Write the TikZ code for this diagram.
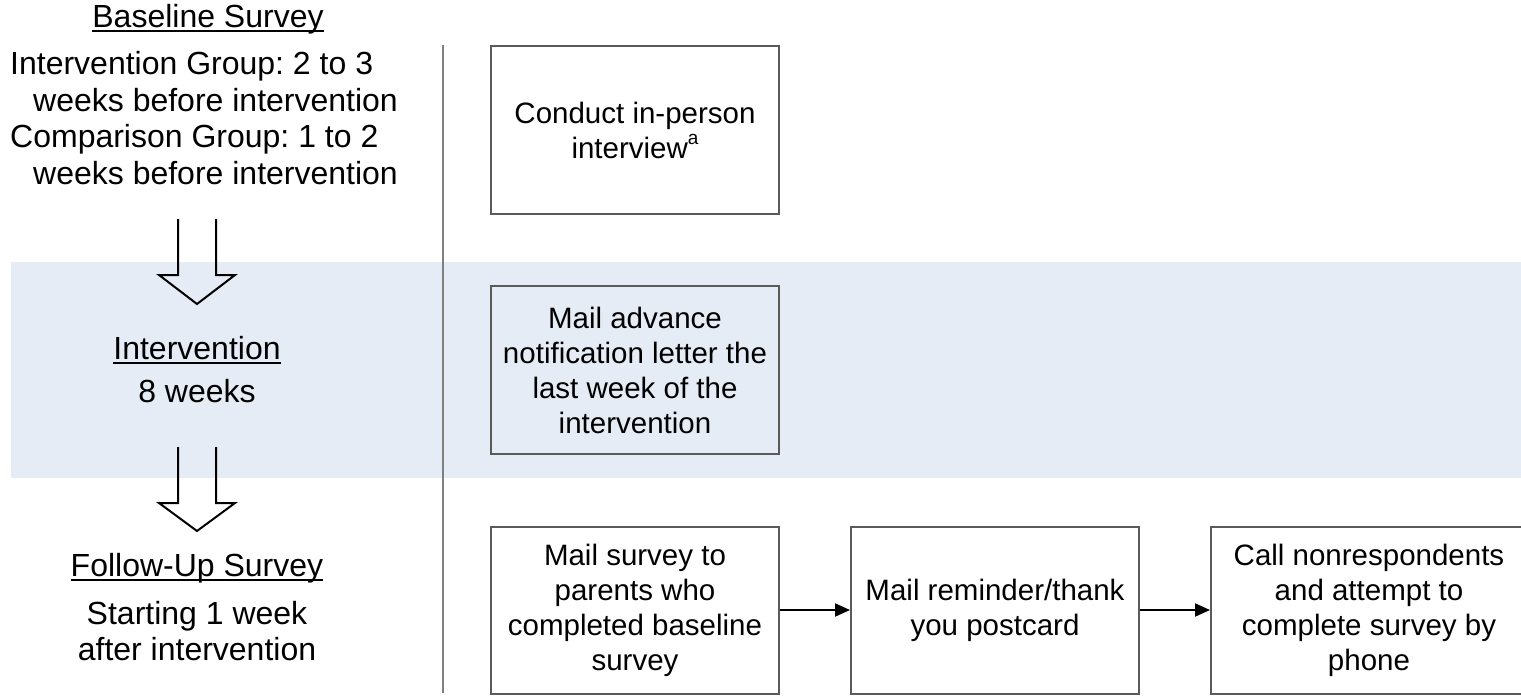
\documentclass[tikz,border=0pt]{standalone}
\usepackage{fontspec}
\setmainfont{Liberation Sans}
\usetikzlibrary{arrows.meta}
\definecolor{bandblue}{RGB}{230,236,246}
\definecolor{boxline}{RGB}{90,90,90}
\definecolor{divline}{RGB}{128,128,128}
\newcommand\ulin[1]{\setbox0\hbox{#1}\rlap{\rule[-0.16em]{\wd0}{0.065em}}\box0}
\newcommand\supa{\raisebox{0.45em}{\fontsize{19}{19}\selectfont a}}
\frenchspacing
\begin{document}
\begin{tikzpicture}[x=1pt,y=-1pt,
  stepbox/.style={draw=boxline, line width=2pt, minimum width=288pt, minimum height=167pt,
    inner sep=0pt, align=center, font=\fontsize{29.5}{35}\selectfont},
  lefttext/.style={inner sep=0pt, font=\fontsize{32}{36.5}\selectfont},
  blockarrow/.style={draw=black, line width=2pt, line join=miter},
  flow/.style={-{Triangle[length=15pt,width=13pt]}, line width=2pt, draw=black}]
\useasboundingbox (0,0) rectangle (1521,698);
% band
\fill[bandblue] (11,262) rectangle (1521,478);
% divider
\coordinate (dtop) at (443,45);
\coordinate (dbot) at (443,693);
\draw[divline, line width=2pt] (dtop) -- (dbot);
% left column
\node[lefttext] (bs) at (208,19) {\ulin{Baseline Survey}};
\node[lefttext, align=left, anchor=west] (bsd) at (10,118)
  {Intervention Group: 2 to 3\\\hspace*{23pt}weeks before intervention\\Comparison Group: 1 to 2\\\hspace*{23pt}weeks before intervention};
\node[lefttext] (iv) at (197,350) {\ulin{Intervention}};
\node[lefttext] (iw) at (197,391) {8 weeks};
\node[lefttext] (fu) at (197,568) {\ulin{Follow-Up Survey}};
\node[lefttext, align=center] (fd) at (197,631) {Starting 1 week\\after intervention};
% block arrows
\draw[blockarrow] (178,219) -- (178,275) -- (159,275) -- (197,304) -- (235,275) -- (216,275) -- (216,219);
\draw[blockarrow] (178,447) -- (178,503) -- (159,503) -- (197,531) -- (235,503) -- (216,503) -- (216,447);
% boxes
\node[stepbox, minimum height=168pt] (b1) at (635,130) {Conduct in-person\\interview\supa};
\node[stepbox, minimum height=168pt] (b2) at (635,370) {Mail advance\\notification letter the\\last week of the\\intervention};
\node[stepbox] (b3) at (635,610) {Mail survey to\\parents who\\completed baseline\\survey};
\node[stepbox] (b4) at (995,610) {Mail reminder/thank\\you postcard};
\node[stepbox, minimum width=316pt] (b5) at (1369,610) {Call nonrespondents\\and attempt to\\complete survey by\\phone};
\draw[flow] (b3.east) -- (b4.west);
\draw[flow] (b4.east) -- (b5.west);
\end{tikzpicture}
\end{document}
